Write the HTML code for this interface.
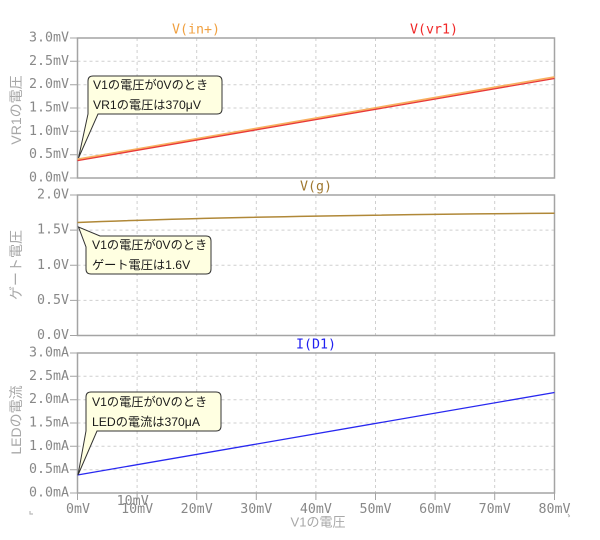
<!DOCTYPE html>
<html><head><meta charset="utf-8"><style>
html,body{margin:0;padding:0;background:#fff;}
svg{display:block;}
.tk{font-family:"DejaVu Sans Mono","Liberation Mono",monospace;font-size:13.3px;fill:#888888;}
.ttl{font-family:"Liberation Sans","Noto Sans CJK JP",sans-serif;font-size:14px;fill:#a8a8a8;}
.cl{font-family:"Liberation Sans","Noto Sans CJK JP",sans-serif;font-size:12.2px;fill:#1a1a1a;}
.lg{font-family:"DejaVu Sans Mono","Liberation Mono",monospace;font-size:13.3px;}
.grid{stroke:#cfcfcf;stroke-width:1;stroke-dasharray:3,3;fill:none;}
.fr{stroke:#a4a4a4;stroke-width:1.5;fill:none;}
.box{fill:#ffffe1;stroke:#333;stroke-width:1;}
</style></head><body>
<svg width="600" height="540" viewBox="0 0 600 540" xmlns="http://www.w3.org/2000/svg">
<g class="grid">
  <path d="M137.1,38V178M196.7,38V178M256.3,38V178M315.9,38V178M375.5,38V178M435.1,38V178M494.7,38V178"/>
  <path d="M137.1,195V335.5M196.7,195V335.5M256.3,195V335.5M315.9,195V335.5M375.5,195V335.5M435.1,195V335.5M494.7,195V335.5"/>
  <path d="M137.1,353V493M196.7,353V493M256.3,353V493M315.9,353V493M375.5,353V493M435.1,353V493M494.7,353V493"/>
  <path d="M77.5,61.3H554.5M77.5,84.7H554.5M77.5,108H554.5M77.5,131.3H554.5M77.5,154.7H554.5"/>
  <path d="M77.5,230.1H554.5M77.5,265.25H554.5M77.5,300.4H554.5"/>
  <path d="M77.5,376.3H554.5M77.5,399.7H554.5M77.5,423H554.5M77.5,446.3H554.5M77.5,469.7H554.5"/>
</g>
<rect class="fr" x="77.5" y="38" width="477" height="140"/>
<rect class="fr" x="77.5" y="195" width="477" height="140.5"/>
<rect class="fr" x="77.5" y="353" width="477" height="140"/>
<g stroke="#a4a4a4" stroke-width="1">
  <path d="M70,38H77.5M70,61.3H77.5M70,84.7H77.5M70,108H77.5M70,131.3H77.5M70,154.7H77.5M70,178H77.5"/>
  <path d="M70,195H77.5M70,230.1H77.5M70,265.25H77.5M70,300.4H77.5M70,335.5H77.5"/>
  <path d="M70,353H77.5M70,376.3H77.5M70,399.7H77.5M70,423H77.5M70,446.3H77.5M70,469.7H77.5M70,493H77.5"/>
  <path d="M77.5,493V500M137.1,493V500M196.7,493V500M256.3,493V500M315.9,493V500M375.5,493V500M435.1,493V500M494.7,493V500M554.5,493V500"/>
</g>
<g class="tk" text-anchor="end" dominant-baseline="central">
  <text x="69" y="38">3.0mV</text><text x="69" y="61.3">2.5mV</text><text x="69" y="84.7">2.0mV</text>
  <text x="69" y="108">1.5mV</text><text x="69" y="131.3">1.0mV</text><text x="69" y="154.7">0.5mV</text>
  <text x="69" y="178">0.0mV</text>
  <text x="69" y="195">2.0V</text><text x="69" y="230.1">1.5V</text><text x="69" y="265.25">1.0V</text>
  <text x="69" y="300.4">0.5V</text><text x="69" y="335.5">0.0V</text>
  <text x="69" y="353">3.0mA</text><text x="69" y="376.3">2.5mA</text><text x="69" y="399.7">2.0mA</text>
  <text x="69" y="423">1.5mA</text><text x="69" y="446.3">1.0mA</text><text x="69" y="469.7">0.5mA</text>
  <text x="69" y="493">0.0mA</text>
</g>
<g class="tk" text-anchor="middle" dominant-baseline="central">
  <text x="78" y="509.5">0mV</text><text x="137.1" y="509.5">10mV</text><text x="196.7" y="509.5">20mV</text>
  <text x="256.3" y="509.5">30mV</text><text x="315.9" y="509.5">40mV</text><text x="375.5" y="509.5">50mV</text>
  <text x="435.1" y="509.5">60mV</text><text x="494.7" y="509.5">70mV</text><text x="554.5" y="509.5">80mV</text>
  <text x="132.7" y="501.5">10mV</text>
</g>
<path d="M568,514 l1.5,2 l-1,1" stroke="#aaa" stroke-width="1" fill="none"/>
<path d="M30,511 v3 h3" stroke="#bbb" stroke-width="1.2" fill="none"/>
<text class="ttl" x="318" y="522" text-anchor="middle" dominant-baseline="central" style="font-size:13px">V1の電圧</text>
<text class="ttl" transform="translate(16,110) rotate(-90)" text-anchor="middle" dominant-baseline="central">VR1の電圧</text>
<text class="ttl" transform="translate(16,265) rotate(-90)" text-anchor="middle" dominant-baseline="central">ゲート電圧</text>
<text class="ttl" transform="translate(16,420) rotate(-90)" text-anchor="middle" dominant-baseline="central">LEDの電流</text>
<g class="lg" text-anchor="middle" dominant-baseline="central">
  <text x="196" y="30" fill="#f0a040">V(in+)</text>
  <text x="434" y="30" fill="#f02828">V(vr1)</text>
  <text x="316" y="187" fill="#a07830">V(g)</text>
  <text x="316" y="345" fill="#2020f0">I(D1)</text>
</g>
<line x1="77.5" y1="159.3" x2="554.5" y2="77" stroke="#f8b060" stroke-width="1.8"/>
<line x1="77.5" y1="160.6" x2="554.5" y2="78.5" stroke="#e83838" stroke-width="1.3"/>
<path d="M77.5,222.5 Q250,215.5 554.5,213.3" stroke="#b08838" stroke-width="1.5" fill="none"/>
<line x1="77.5" y1="475" x2="554.5" y2="392.5" stroke="#2828f0" stroke-width="1.3"/>
<path class="box" d="M93,76 H217 Q222,76 222,81 V109 Q222,114 217,114 H98 L78.5,158 L88,114 V81 Q88,76 93,76 Z"/>
<text class="cl" x="93" y="85" dominant-baseline="central">V1の電圧が0Vのとき</text>
<text class="cl" x="93" y="105" dominant-baseline="central">VR1の電圧は370μV</text>
<path class="box" d="M100,236 H206 Q211,236 211,241 V269 Q211,274 206,274 H91 Q86,274 86,269 V247 L78.5,227 Z"/>
<text class="cl" x="92" y="245" dominant-baseline="central">V1の電圧が0Vのとき</text>
<text class="cl" x="92" y="265" dominant-baseline="central">ゲート電圧は1.6V</text>
<path class="box" d="M91,392 H216 Q221,392 221,397 V426 Q221,431 216,431 H97 L78,475 L86,431 V397 Q86,392 91,392 Z"/>
<text class="cl" x="92" y="402" dominant-baseline="central">V1の電圧が0Vのとき</text>
<text class="cl" x="92" y="422" dominant-baseline="central">LEDの電流は370μA</text>
</svg>
</body></html>
